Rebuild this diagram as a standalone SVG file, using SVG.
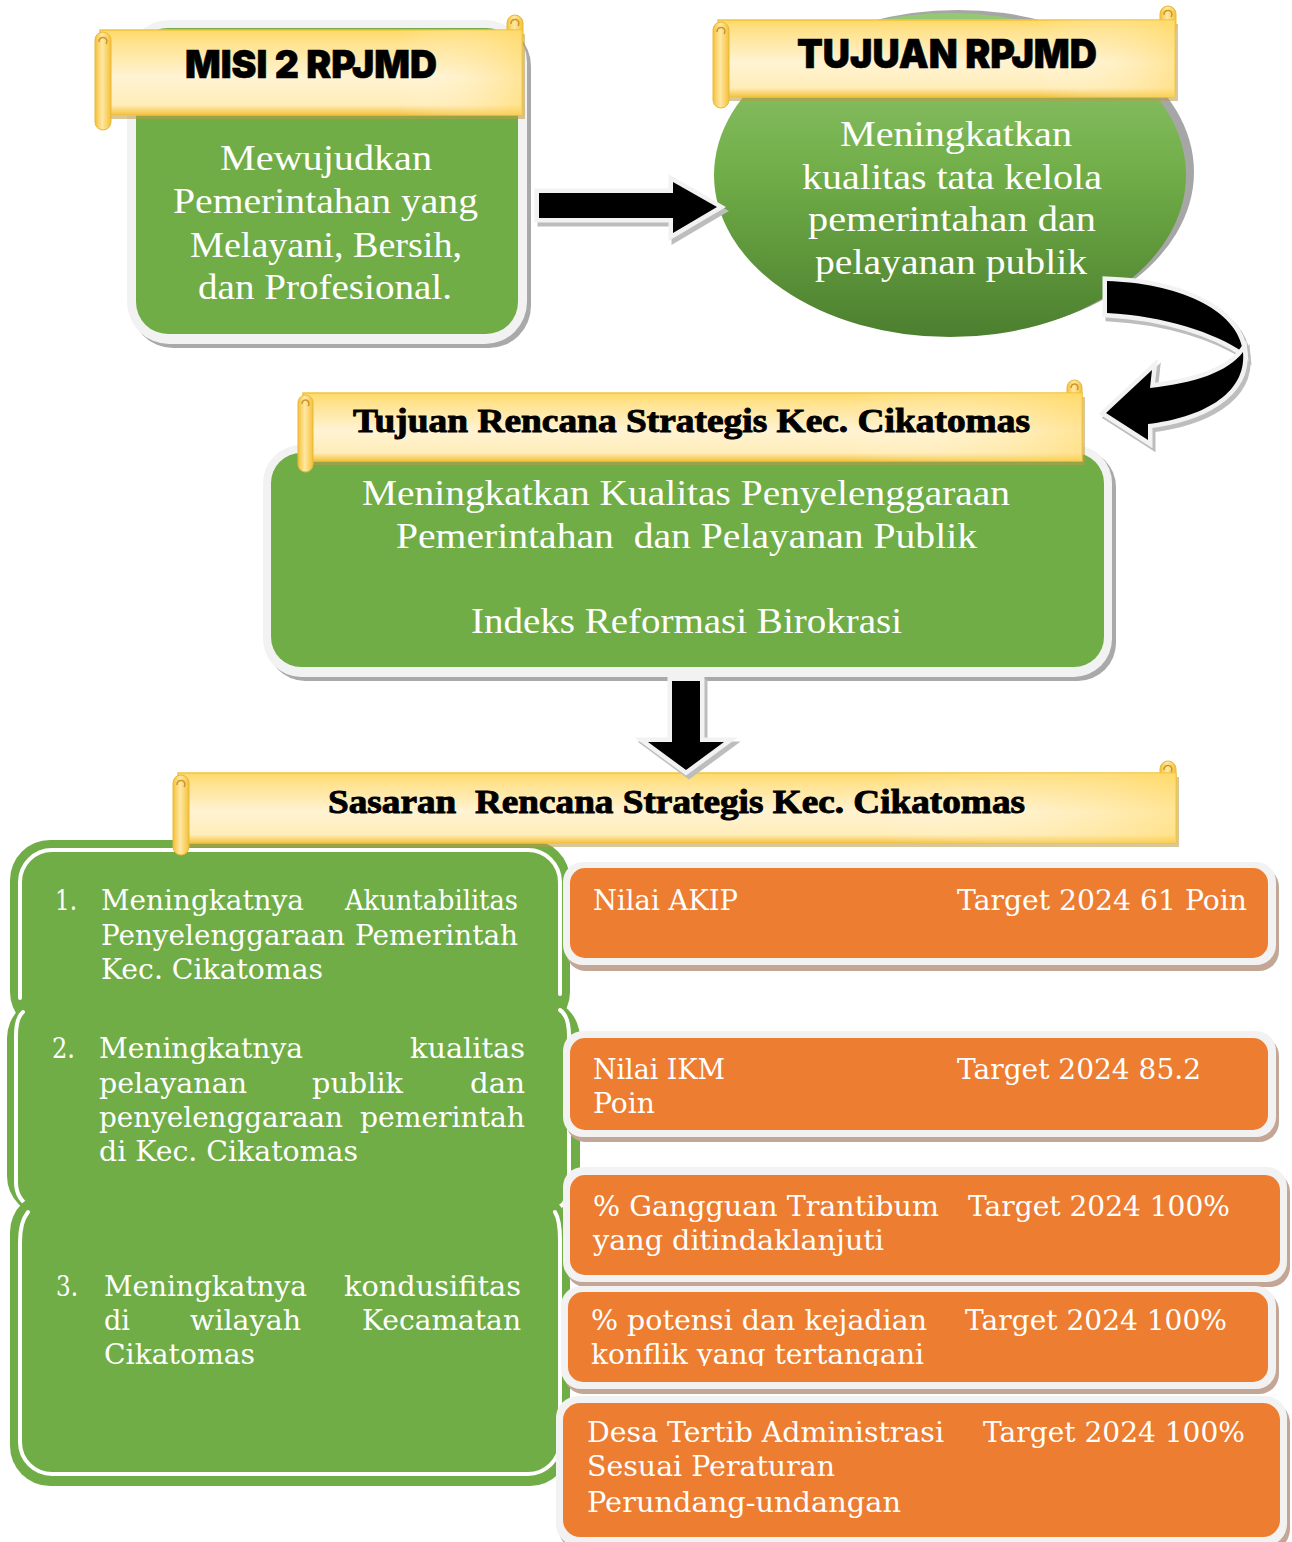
<svg xmlns="http://www.w3.org/2000/svg" width="1292" height="1542" viewBox="0 0 1292 1542">
<defs>
  <linearGradient id="yel" x1="0" y1="0" x2="0" y2="1">
    <stop offset="0" stop-color="#FFD966"/>
    <stop offset="0.14" stop-color="#FFE28C"/>
    <stop offset="0.55" stop-color="#FFF3D3"/>
    <stop offset="0.88" stop-color="#FFEDB9"/>
    <stop offset="1" stop-color="#F5C23E"/>
  </linearGradient>
  <linearGradient id="yelH" x1="0" y1="0" x2="1" y2="0">
    <stop offset="0" stop-color="#FFFFFF" stop-opacity="0"/>
    <stop offset="0.7" stop-color="#FFFFFF" stop-opacity="0"/>
    <stop offset="1" stop-color="#FFD966" stop-opacity="0.55"/>
  </linearGradient>
  <linearGradient id="roll" x1="0" y1="0" x2="1" y2="0">
    <stop offset="0" stop-color="#F4C03A"/>
    <stop offset="0.45" stop-color="#FFE8A3"/>
    <stop offset="1" stop-color="#F4C03A"/>
  </linearGradient>
  <linearGradient id="egrad" x1="0" y1="0" x2="0" y2="1">
    <stop offset="0" stop-color="#96C975"/>
    <stop offset="0.5" stop-color="#70AD47"/>
    <stop offset="1" stop-color="#4C7F2F"/>
  </linearGradient>
  <clipPath id="clip4"><rect x="560" y="1285" width="720" height="81"/></clipPath>
  <style>
    .hdr { font-family: Inter, "DejaVu Sans", sans-serif; font-weight: 900; fill: #000; stroke: #000; stroke-width: 0.6; }
    .bhdr { font-family: "Liberation Serif", "DejaVu Serif", serif; font-weight: bold; fill: #000; stroke: #000; stroke-width: 0.9; white-space: pre; }
    .wt { font-family: "Liberation Serif", "DejaVu Serif", serif; fill: #FFFFFF; white-space: pre; }
    .bt { font-family: "DejaVu Serif", "Liberation Serif", serif; fill: #FFFFFF; font-size: 27px; }
    .body { fill: url(#yel); stroke: #F1C342; stroke-width: 1.5; }
    .gloss { fill: url(#yelH); }
    .bshadow { fill: #B89A45; opacity: 0.55; }
    .rollr { fill: url(#roll); stroke: #E9B935; stroke-width: 1; }
    .curl { fill: none; stroke: #C9962A; stroke-width: 1.5; }
    .green { fill: #70AD47; }
    .wline { fill: none; stroke: #FFFFFF; stroke-width: 4; stroke-linecap: round; }
    .ob { fill: #F2F2F2; }
    .osh { fill: #C4A696; }
    .oi { fill: #ED7D31; }
    .arr { fill: #000; stroke: #F2F2F2; stroke-width: 9; stroke-linejoin: miter; paint-order: stroke; }
    .arrsh { fill: #BDBDBD; stroke: #BDBDBD; stroke-width: 9; stroke-linejoin: miter; }
  </style>
</defs>
<rect x="0" y="0" width="1292" height="1542" fill="#FFFFFF"/>

<!-- MISI 2 RPJMD -->
<g id="misi">
  <rect x="131" y="24" width="400" height="324" rx="42" fill="#A9A9A9"/>
  <rect x="127" y="20" width="400" height="324" rx="42" class="ob"/>
  <rect x="136" y="28" width="382" height="306" rx="32" class="green"/>
  <rect x="103" y="34" width="422" height="85" class="bshadow"/>
  <rect x="507" y="15" width="16" height="30" rx="8" class="rollr"/>
  <rect x="100" y="30" width="422" height="85" class="body"/>
  <rect x="100" y="30" width="422" height="85" class="gloss"/>
  <path d="M511,24 a4,4 0 1 1 7,2" class="curl"/>
  <rect x="95" y="32" width="16" height="98" rx="8" class="rollr"/>
  <path d="M99,42 a4,4 0 1 1 7,2" class="curl"/>
  <text class="hdr" x="185" y="78" font-size="38" textLength="252" lengthAdjust="spacingAndGlyphs">MISI 2 RPJMD</text>
  <text class="wt" x="220" y="170" font-size="35" textLength="212" lengthAdjust="spacingAndGlyphs">Mewujudkan</text>
  <text class="wt" x="173" y="213" font-size="35" textLength="305" lengthAdjust="spacingAndGlyphs">Pemerintahan yang</text>
  <text class="wt" x="190" y="257" font-size="35" textLength="272" lengthAdjust="spacingAndGlyphs">Melayani, Bersih,</text>
  <text class="wt" x="198" y="299" font-size="35" textLength="254" lengthAdjust="spacingAndGlyphs">dan Profesional.</text>
</g>

<!-- TUJUAN RPJMD -->
<g id="tujuan-rpjmd">
  <ellipse cx="958" cy="172" rx="236" ry="162" fill="#A6A6A6"/>
  <ellipse cx="950" cy="175" rx="236" ry="162" fill="url(#egrad)"/>
  <rect x="721" y="24" width="457" height="77" class="bshadow"/>
  <rect x="1160" y="6" width="16" height="30" rx="8" class="rollr"/>
  <rect x="718" y="20" width="457" height="77" class="body"/>
  <rect x="718" y="20" width="457" height="77" class="gloss"/>
  <path d="M1164,15 a4,4 0 1 1 7,2" class="curl"/>
  <rect x="713" y="22" width="16" height="86" rx="8" class="rollr"/>
  <path d="M717,32 a4,4 0 1 1 7,2" class="curl"/>
  <text class="hdr" x="797" y="68" font-size="40" textLength="300" lengthAdjust="spacingAndGlyphs">TUJUAN RPJMD</text>
  <text class="wt" x="840" y="146" font-size="35" textLength="232" lengthAdjust="spacingAndGlyphs">Meningkatkan</text>
  <text class="wt" x="802" y="189" font-size="35" textLength="300" lengthAdjust="spacingAndGlyphs">kualitas tata kelola</text>
  <text class="wt" x="808" y="231" font-size="35" textLength="288" lengthAdjust="spacingAndGlyphs">pemerintahan dan</text>
  <text class="wt" x="815" y="274" font-size="35" textLength="272" lengthAdjust="spacingAndGlyphs">pelayanan publik</text>
</g>

<!-- Tujuan Renstra -->
<g id="tujuan-renstra">
  <rect x="267" y="449" width="849" height="232" rx="38" fill="#A9A9A9"/>
  <rect x="263" y="445" width="849" height="232" rx="38" class="ob"/>
  <rect x="271" y="453" width="833" height="214" rx="30" class="green"/>
  <rect x="306" y="397" width="779" height="68" class="bshadow"/>
  <rect x="1067" y="380" width="15" height="28" rx="7.5" class="rollr"/>
  <rect x="303" y="393" width="779" height="68" class="body"/>
  <rect x="303" y="393" width="779" height="68" class="gloss"/>
  <path d="M1071,388 a3.5,3.5 0 1 1 6,2" class="curl"/>
  <rect x="298" y="395" width="15" height="77" rx="7.5" class="rollr"/>
  <path d="M302,404 a3.5,3.5 0 1 1 6,2" class="curl"/>
  <text class="bhdr" x="353" y="432" font-size="33" textLength="677" lengthAdjust="spacingAndGlyphs">Tujuan Rencana Strategis Kec. Cikatomas</text>
  <text class="wt" x="362" y="505" font-size="35" textLength="648" lengthAdjust="spacingAndGlyphs">Meningkatkan Kualitas Penyelenggaraan</text>
  <text class="wt" x="396" y="548" font-size="35" textLength="581" lengthAdjust="spacingAndGlyphs">Pemerintahan  dan Pelayanan Publik</text>
  <text class="wt" x="471" y="633" font-size="35" textLength="431" lengthAdjust="spacingAndGlyphs">Indeks Reformasi Birokrasi</text>
</g>

<!-- Sasaran 1 -->
<g id="sasaran-1">
  <rect x="10" y="840" width="560" height="192" rx="40" class="green"/>
  <path d="M20,998 L20,882 A32,32 0 0 1 52,850 L528,850 A32,32 0 0 1 560,882 L560,994" class="wline"/>
  <text class="bt" x="55" y="910" textLength="22" lengthAdjust="spacingAndGlyphs">1.</text>
  <text class="bt" x="101" y="910" textLength="203" lengthAdjust="spacingAndGlyphs">Meningkatnya</text>
  <text class="bt" x="345" y="910" textLength="173" lengthAdjust="spacingAndGlyphs">Akuntabilitas</text>
  <text class="bt" x="101" y="945" textLength="244" lengthAdjust="spacingAndGlyphs">Penyelenggaraan</text>
  <text class="bt" x="355" y="945" textLength="163" lengthAdjust="spacingAndGlyphs">Pemerintah</text>
  <text class="bt" x="101" y="979" textLength="222" lengthAdjust="spacingAndGlyphs">Kec. Cikatomas</text>
</g>

<!-- Sasaran 2 -->
<g id="sasaran-2">
  <rect x="7" y="998" width="573" height="218" rx="40" class="green"/>
  <path d="M23,1012 Q16,1018 16,1036 L16,1182 Q16,1200 32,1208" class="wline"/>
  <path d="M560,1010 Q569,1016 569,1036 L569,1186 Q569,1202 558,1208" class="wline"/>
  <text class="bt" x="52" y="1058" textLength="23" lengthAdjust="spacingAndGlyphs">2.</text>
  <text class="bt" x="99" y="1058" textLength="204" lengthAdjust="spacingAndGlyphs">Meningkatnya</text>
  <text class="bt" x="410" y="1058" textLength="115" lengthAdjust="spacingAndGlyphs">kualitas</text>
  <text class="bt" x="99" y="1093" textLength="148" lengthAdjust="spacingAndGlyphs">pelayanan</text>
  <text class="bt" x="312" y="1093" textLength="91" lengthAdjust="spacingAndGlyphs">publik</text>
  <text class="bt" x="470" y="1093" textLength="55" lengthAdjust="spacingAndGlyphs">dan</text>
  <text class="bt" x="99" y="1127" textLength="244" lengthAdjust="spacingAndGlyphs">penyelenggaraan</text>
  <text class="bt" x="360" y="1127" textLength="165" lengthAdjust="spacingAndGlyphs">pemerintah</text>
  <text class="bt" x="99" y="1161" textLength="259" lengthAdjust="spacingAndGlyphs">di Kec. Cikatomas</text>
</g>

<!-- Sasaran 3 -->
<g id="sasaran-3">
  <rect x="10" y="1192" width="560" height="294" rx="40" class="green"/>
  <path d="M28,1212 Q20,1222 20,1242 L20,1442 A32,32 0 0 0 52,1474 L528,1474 A32,32 0 0 0 560,1442 L560,1240 Q560,1220 555,1212" class="wline"/>
  <text class="bt" x="56" y="1296" textLength="22" lengthAdjust="spacingAndGlyphs">3.</text>
  <text class="bt" x="104" y="1296" textLength="203" lengthAdjust="spacingAndGlyphs">Meningkatnya</text>
  <text class="bt" x="344" y="1296" textLength="177" lengthAdjust="spacingAndGlyphs">kondusifitas</text>
  <text class="bt" x="104" y="1330" textLength="26" lengthAdjust="spacingAndGlyphs">di</text>
  <text class="bt" x="190" y="1330" textLength="111" lengthAdjust="spacingAndGlyphs">wilayah</text>
  <text class="bt" x="362" y="1330" textLength="159" lengthAdjust="spacingAndGlyphs">Kecamatan</text>
  <text class="bt" x="104" y="1364" textLength="151" lengthAdjust="spacingAndGlyphs">Cikatomas</text>
</g>

<!-- Sasaran header -->
<g id="sasaran-header">
  <rect x="181" y="777" width="998" height="70" class="bshadow"/>
  <rect x="1160" y="761" width="16" height="28" rx="8" class="rollr"/>
  <rect x="178" y="773" width="998" height="70" class="body"/>
  <rect x="178" y="773" width="998" height="70" class="gloss"/>
  <path d="M1164,770 a4,4 0 1 1 7,2" class="curl"/>
  <rect x="173" y="775" width="16" height="80" rx="8" class="rollr"/>
  <path d="M177,785 a4,4 0 1 1 7,2" class="curl"/>
  <text class="bhdr" x="328" y="813" font-size="33" textLength="697" lengthAdjust="spacingAndGlyphs">Sasaran  Rencana Strategis Kec. Cikatomas</text>
</g>

<!-- Indicators -->
<g id="ind-akip">
  <rect x="566" y="867" width="713" height="104" rx="20" class="osh"/>
  <rect x="563" y="862" width="713" height="103" rx="20" class="ob"/>
  <rect x="570" y="868" width="698" height="90" rx="15" class="oi"/>
  <text class="bt" x="593" y="910" textLength="145" lengthAdjust="spacingAndGlyphs">Nilai AKIP</text>
  <text class="bt" x="957" y="910" textLength="290" lengthAdjust="spacingAndGlyphs">Target 2024 61 Poin</text>
</g>
<g id="ind-ikm">
  <rect x="566" y="1036" width="713" height="106" rx="20" class="osh"/>
  <rect x="563" y="1031" width="713" height="106" rx="20" class="ob"/>
  <rect x="570" y="1038" width="698" height="92" rx="15" class="oi"/>
  <text class="bt" x="593" y="1079" textLength="132" lengthAdjust="spacingAndGlyphs">Nilai IKM</text>
  <text class="bt" x="957" y="1079" textLength="244" lengthAdjust="spacingAndGlyphs">Target 2024 85.2</text>
  <text class="bt" x="593" y="1113" textLength="62" lengthAdjust="spacingAndGlyphs">Poin</text>
</g>
<g id="ind-trantibum">
  <rect x="566" y="1172" width="724" height="115" rx="20" class="osh"/>
  <rect x="563" y="1167" width="724" height="115" rx="20" class="ob"/>
  <rect x="570" y="1175" width="710" height="100" rx="15" class="oi"/>
  <text class="bt" x="593" y="1216" textLength="346" lengthAdjust="spacingAndGlyphs">% Gangguan Trantibum</text>
  <text class="bt" x="968" y="1216" textLength="262" lengthAdjust="spacingAndGlyphs">Target 2024 100%</text>
  <text class="bt" x="593" y="1250" textLength="291" lengthAdjust="spacingAndGlyphs">yang ditindaklanjuti</text>
</g>
<g id="ind-konflik">
  <rect x="564" y="1291" width="715" height="103" rx="20" class="osh"/>
  <rect x="561" y="1286" width="715" height="103" rx="20" class="ob"/>
  <rect x="568" y="1292" width="700" height="90" rx="15" class="oi"/>
  <g clip-path="url(#clip4)">
    <text class="bt" x="591" y="1330" textLength="336" lengthAdjust="spacingAndGlyphs">% potensi dan kejadian</text>
    <text class="bt" x="965" y="1330" textLength="262" lengthAdjust="spacingAndGlyphs">Target 2024 100%</text>
    <text class="bt" x="591" y="1364" textLength="333" lengthAdjust="spacingAndGlyphs">konflik yang tertangani</text>
  </g>
</g>
<g id="ind-desa">
  <rect x="559" y="1401" width="731" height="150" rx="22" class="osh"/>
  <rect x="556" y="1396" width="731" height="150" rx="22" class="ob"/>
  <rect x="563" y="1403" width="717" height="134" rx="17" class="oi"/>
  <text class="bt" x="587" y="1442" textLength="357" lengthAdjust="spacingAndGlyphs">Desa Tertib Administrasi</text>
  <text class="bt" x="983" y="1442" textLength="262" lengthAdjust="spacingAndGlyphs">Target 2024 100%</text>
  <text class="bt" x="587" y="1476" textLength="248" lengthAdjust="spacingAndGlyphs">Sesuai Peraturan</text>
  <text class="bt" x="587" y="1512" textLength="314" lengthAdjust="spacingAndGlyphs">Perundang-undangan</text>
</g>

<!-- Connectors -->
<g id="connectors">
  <path class="arrsh" d="M542,197 L676,197 L676,186 L720,211 L676,237 L676,222 L542,222 Z"/>
  <path class="arr" d="M539,193 L673,193 L673,182 L717,207 L673,233 L673,218 L539,218 Z"/>

  <path class="arrsh" d="M1110,285 C1178,287 1241,312 1246,356 C1218,337 1168,320 1110,317 Z"/>
  <path class="arrsh" d="M1246,356 C1250,399 1203,422 1151,428 L1151,444 L1109,417 L1155,374 L1153,392 C1198,387 1231,376 1246,356 Z"/>
  <path class="arr" d="M1107,281 C1175,283 1238,308 1243,352 C1215,333 1165,316 1107,313 Z"/>
  <path class="arr" d="M1243,352 C1247,395 1200,418 1148,424 L1148,440 L1106,413 L1152,370 L1150,388 C1195,383 1228,372 1243,352 Z"/>

  <path class="arrsh" d="M675,684 L703,684 L703,746 L727,746 L689,774 L651,746 L675,746 Z"/>
  <path class="arr" d="M672,681 L700,681 L700,742 L724,742 L686,770 L648,742 L672,742 Z"/>
</g>
</svg>
